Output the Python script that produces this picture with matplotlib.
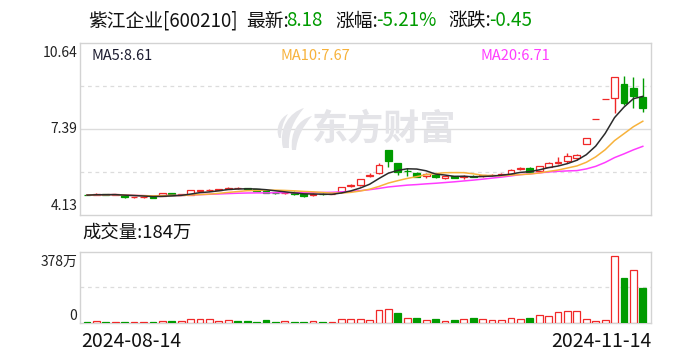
import matplotlib
matplotlib.use("Agg")
import matplotlib.pyplot as plt
from matplotlib.path import Path
from matplotlib.patches import PathPatch
import numpy as np
import pandas as pd

plt.rcParams['font.family'] = ['Noto Sans CJK SC', 'DejaVu Sans']

# ---------------- data ----------------
dates = ["2024-08-14", "2024-11-14"]
opens  = [4.90,4.89,4.91,4.89,4.88,4.80,4.80,4.81,4.84,4.96,
          4.90,4.90,5.05,5.07,5.09,5.11,5.14,5.14,5.10,5.04,
          4.97,4.95,5.01,4.92,4.90,4.93,4.92,4.99,5.22,5.25,
          5.60,5.73,6.59,6.08,5.80,5.71,5.60,5.64,5.52,5.60,
          5.58,5.61,5.60,5.63,5.65,5.68,5.86,5.92,5.80,5.96,
          6.11,6.18,6.27,6.80,7.74,8.51,8.54,9.07,8.92,8.58]
highs  = [4.91,4.95,4.92,4.92,4.90,4.82,4.83,4.82,4.95,4.97,
          4.93,5.08,5.09,5.11,5.11,5.18,5.19,5.15,5.11,5.05,
          4.99,4.98,5.02,4.93,4.97,4.95,4.94,5.18,5.31,5.50,
          5.71,6.11,6.59,6.10,5.92,5.75,5.72,5.66,5.60,5.61,
          5.66,5.63,5.65,5.68,5.70,5.85,5.95,5.94,6.00,6.12,
          6.33,6.49,6.45,7.04,7.74,8.51,9.36,9.40,9.34,9.30]
lows   = [4.87,4.88,4.89,4.87,4.78,4.79,4.79,4.78,4.84,4.88,
          4.87,4.89,5.03,5.05,5.08,5.10,5.13,5.10,5.03,4.96,
          4.93,4.94,4.90,4.80,4.86,4.89,4.91,4.98,5.20,5.24,
          5.56,5.67,5.96,5.64,5.62,5.55,5.53,5.54,5.50,5.51,
          5.50,5.56,5.58,5.61,5.63,5.67,5.83,5.76,5.78,5.95,
          6.05,6.11,6.22,6.80,7.74,8.51,7.97,8.30,8.16,8.04]
closes = [4.88,4.91,4.90,4.91,4.80,4.81,4.82,4.79,4.95,4.89,
          4.91,5.06,5.07,5.08,5.10,5.16,5.15,5.11,5.04,4.97,
          4.95,4.96,4.91,4.86,4.94,4.91,4.93,5.17,5.25,5.48,
          5.63,6.02,6.18,5.77,5.78,5.58,5.69,5.56,5.59,5.52,
          5.61,5.58,5.63,5.66,5.68,5.83,5.90,5.77,5.99,6.11,
          6.13,6.36,6.40,7.04,7.74,8.51,9.36,8.38,8.63,8.18]
volumes = [5,10,5,4,5,4,4,5,10,10,
           10,19,19,19,10,14,10,10,6,14,
           6,10,5,5,10,5,4,22,22,22,
           18,70,76,51,28,25,18,20,12,14,
           23,25,23,18,18,28,23,25,44,39,
           60,65,65,23,12,18,354,237,283,184]

title_name = "紫江企业[600210]"
latest = "8.18"
change_pct = "-5.21%"
change_amt = "-0.45"
ma5_txt, ma10_txt, ma20_txt = "8.61", "7.67", "6.71"
vol_txt = "184万"
price_ticks = [4.13, 7.39, 10.64]
vol_max = 378

RED = '#f02828'
GREEN = '#009b00'
C_MA5 = '#2b2b2b'
C_MA10 = '#f7b23b'
C_MA20 = '#ff3cff'
GRID = '#dcdcdc'
SPINE = '#d3d3d3'
WM = '#e4e4e8'

W, H = 688, 360
fig = plt.figure(figsize=(W/100, H/100), dpi=100)
fig.patch.set_facecolor('white')

L, R = 80.3, 651
T1, B1 = 42.7, 215
T2, B2 = 251.7, 323
ax = fig.add_axes([L/W, 1-B1/H, (R-L)/W, (B1-T1)/H])
axv = fig.add_axes([L/W, 1-B2/H, (R-L)/W, (B2-T2)/H])

n = len(closes)
x = np.arange(n)
o = np.array(opens); c = np.array(closes); h = np.array(highs); lo = np.array(lows)
up = c >= o
colors = [RED if u else GREEN for u in up]
prev = np.concatenate([[o[0]], c[:-1]])
vup = c >= prev

for a in (ax, axv):
    a.set_xlim(-0.71, 59.87)
    a.set_xticks([]); a.set_yticks([])
    for s in a.spines.values():
        s.set_color(SPINE); s.set_linewidth(1.0)

ymin, ymax = price_ticks[0], price_ticks[-1]
ax.set_ylim(ymin, ymax)
rng = ymax - ymin
ax.axhline(ymin + rng*0.5, color=GRID, lw=1.0, zorder=0)
for fr in (0.25, 0.75):
    ax.axhline(ymin + rng*fr, color=GRID, lw=0.9, ls=(0, (3, 3)), zorder=0)

# watermark text + simple logo
ax.text(0.533, 0.50, "东方财富", transform=ax.transAxes, ha='center', va='center',
        fontsize=26, fontweight='bold', color=WM, zorder=0.5)

def px2fig(pts):
    return [(px/W, 1-py/H) for px, py in pts]

leaf1 = [(283, 148), (278, 128), (290, 112), (304, 108),
         (294, 120), (288, 132), (289, 148), (286, 148)]
codes1 = [Path.MOVETO, Path.CURVE4, Path.CURVE4, Path.CURVE4,
          Path.CURVE4, Path.CURVE4, Path.CURVE4, Path.CLOSEPOLY]
leaf2 = [(292, 150), (290, 132), (298, 120), (312, 116),
         (303, 126), (297, 138), (296, 150), (292, 150)]
leaf3 = [(279, 138), (275, 128), (280, 118), (288, 114),
         (283, 122), (281, 130), (281, 138), (279, 138)]
for pts in (leaf1, leaf2, leaf3):
    p = Path(px2fig(pts), codes1)
    fig.add_artist(PathPatch(p, transform=fig.transFigure, facecolor=WM,
                             edgecolor='none', zorder=0.5))

bw = 0.72
ax.vlines(x, lo, h, colors=colors, lw=1.0, zorder=2)
for i in range(n):
    bottom = min(o[i], c[i]); height = abs(c[i]-o[i])
    if up[i]:
        ax.bar(x[i], height, bottom=bottom, width=bw, facecolor='white',
               edgecolor=RED, lw=0.9, zorder=3)
    else:
        ax.bar(x[i], height, bottom=bottom, width=bw, facecolor=GREEN,
               edgecolor=GREEN, lw=0.9, zorder=3)

s = pd.Series(closes)
ma5 = s.rolling(5, min_periods=1).mean()
ma10 = s.rolling(10, min_periods=1).mean()
ma20 = s.rolling(20, min_periods=1).mean()
ax.plot(x, ma20, color=C_MA20, lw=1.1, zorder=4)
ax.plot(x, ma10, color=C_MA10, lw=1.1, zorder=4)
ax.plot(x, ma5, color=C_MA5, lw=1.1, zorder=4)

# volume
axv.set_ylim(0, vol_max)
axv.axhline(vol_max/2, color=GRID, lw=0.9, ls=(0, (3, 3)), zorder=0)
for i in range(n):
    if vup[i]:
        axv.bar(x[i], volumes[i], width=bw, facecolor='white', edgecolor=RED, lw=0.9, zorder=3)
    else:
        axv.bar(x[i], volumes[i], width=bw, facecolor=GREEN, edgecolor=GREEN, lw=0.9, zorder=3)

def ftext(px, py, txt, **kw):
    fig.text(px/W, 1-py/H, txt, **kw)

hs = 13.5
ftext(88, 21, title_name, fontsize=hs, va='center', ha='left', color='#111')
ftext(246, 21, "最新:", fontsize=hs, va='center', ha='left', color='#111')
ftext(286, 21, latest, fontsize=hs, va='center', ha='left', color=GREEN)
ftext(335, 21, "涨幅:", fontsize=hs, va='center', ha='left', color='#111')
ftext(376.5, 21, change_pct, fontsize=hs, va='center', ha='left', color=GREEN)
ftext(448, 21, "涨跌:", fontsize=hs, va='center', ha='left', color='#111')
ftext(489.5, 21, change_amt, fontsize=hs, va='center', ha='left', color=GREEN)

ftext(91, 56, "MA5:" + ma5_txt, fontsize=10.5, va='center', ha='left', color='#1c1c30')
ftext(280, 56, "MA10:" + ma10_txt, fontsize=10.5, va='center', ha='left', color=C_MA10)
ftext(481, 56, "MA20:" + ma20_txt, fontsize=10.5, va='center', ha='left', color=C_MA20)

ftext(77.7, 52.7, f"{price_ticks[2]:.2f}", fontsize=10, va='center', ha='right', color='#222')
ftext(77.7, 129.3, f"{price_ticks[1]:.2f}", fontsize=10, va='center', ha='right', color='#222')
ftext(77.7, 205.7, f"{price_ticks[0]:.2f}", fontsize=10, va='center', ha='right', color='#222')

ftext(82.7, 234, "成交量:" + vol_txt, fontsize=13.2, va='center', ha='left', color='#111')
ftext(77.3, 261.7, f"{vol_max}万", fontsize=10, va='center', ha='right', color='#222')
ftext(77.0, 316, "0", fontsize=10, va='center', ha='right', color='#222')

ftext(81, 341.5, dates[0], fontsize=14, va='center', ha='left', color='#111')
ftext(651, 341.5, dates[1], fontsize=14, va='center', ha='right', color='#111')

fig.savefig("out.png", dpi=100, facecolor='white')
